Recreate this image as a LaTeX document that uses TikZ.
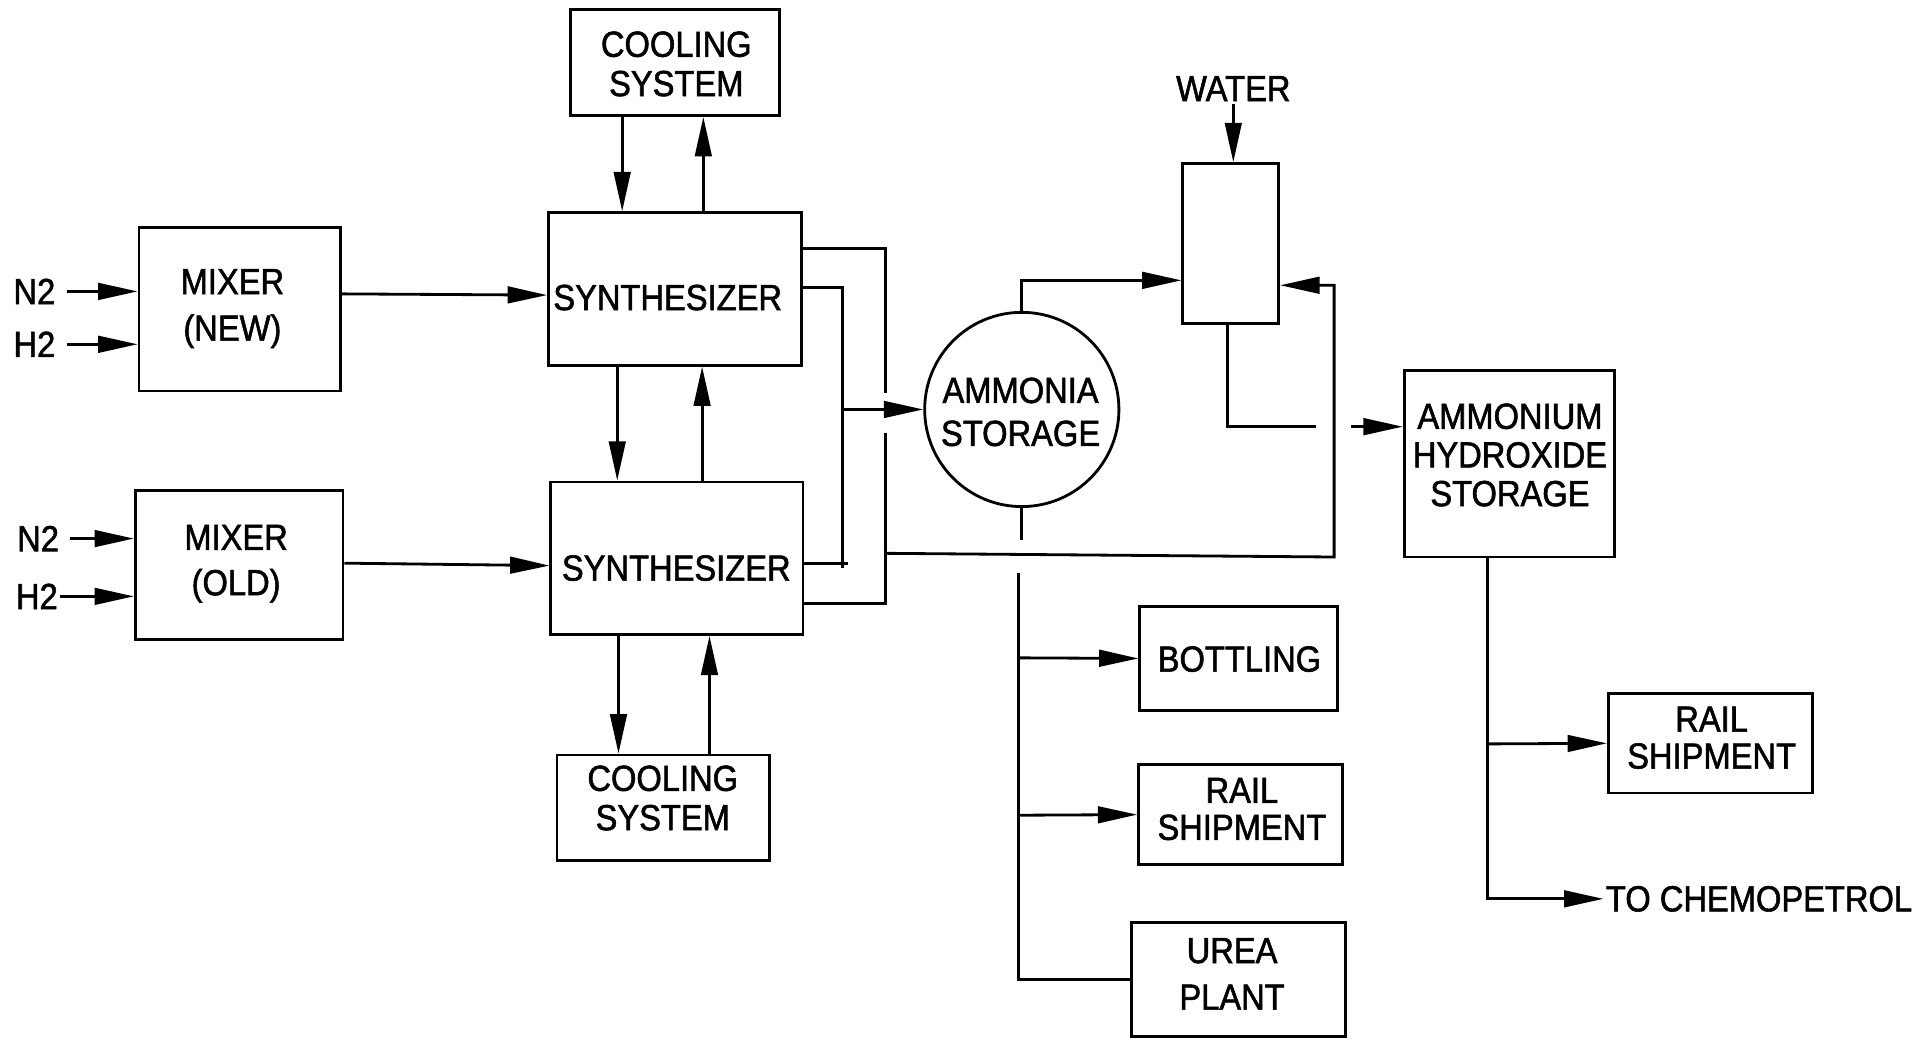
\documentclass[tikz,border=0pt]{standalone}
\usepackage{fontspec}
\setmainfont{Liberation Sans}[FakeStretch=0.9,FakeBold=1.5]
\usetikzlibrary{arrows.meta}
\newcommand{\diagfont}{\fontsize{16.8}{19}\selectfont}
\begin{document}
\begin{tikzpicture}[x=0.02cm,y=-0.02cm,
  box/.style={draw,line width=1.3pt,inner sep=0pt},
  txt/.style={inner sep=0pt,align=center,font=\diagfont},
  ln/.style={line width=1.3pt},
  arr/.style={line width=1.3pt,-{Triangle[length=0.64cm,width=0.27cm]}},
  lbl/.style={inner sep=1pt,font=\diagfont}]
\useasboundingbox (0,0) rectangle (1568,845);

% boxes
\node[box,minimum width=3.28cm,minimum height=2.66cm] (mixNew) at (195,251.5) {};
\node[box,minimum width=3.38cm,minimum height=2.42cm] (mixOld) at (194.5,459.5) {};
\node[box,minimum width=4.12cm,minimum height=2.48cm] (synA) at (549,235) {};
\node[box,minimum width=4.10cm,minimum height=2.48cm] (synB) at (550.5,454) {};
\node[box,minimum width=3.40cm,minimum height=1.72cm] (coolA) at (549,51) {};
\node[box,minimum width=3.46cm,minimum height=1.72cm] (coolB) at (539.5,657) {};
\node[draw,circle,line width=1.3pt,minimum size=3.16cm,inner sep=0pt] (amm) at (831,333) {};
\node[box,minimum width=1.56cm,minimum height=2.60cm] (abs) at (1001,198) {};
\node[box,minimum width=3.42cm,minimum height=3.04cm] (ammHyd) at (1227.5,377) {};
\node[box,minimum width=3.22cm,minimum height=1.70cm] (bottling) at (1007.5,535.5) {};
\node[box,minimum width=3.32cm,minimum height=1.62cm] (rail1) at (1009,662.5) {};
\node[box,minimum width=3.48cm,minimum height=1.86cm] (urea) at (1007,796.5) {};
\node[box,minimum width=3.32cm,minimum height=1.62cm] (rail2) at (1391,604.5) {};

% texts
\node[txt] (mixNewT) at (189,251) {MIXER\\[2.6pt](NEW)};
\node[txt] (mixOldT) at (192,458.5) {MIXER\\[2pt](OLD)};
\node[txt] (synAT) at (543,242) {SYNTHESIZER};
\node[txt] (synBT) at (550,462) {SYNTHESIZER};
\node[txt] (coolAT) at (550,52) {COOLING\\[-0.8pt]SYSTEM};
\node[txt] (coolBT) at (539,649) {COOLING\\[-0.8pt]SYSTEM};
\node[txt] (ammT) at (830,335) {AMMONIA\\[0.9pt]STORAGE};
\node[txt] (ammHydT) at (1228,370) {AMMONIUM\\[-1.1pt]HYDROXIDE\\[-1.1pt]STORAGE};
\node[txt] (bottlingT) at (1008,536) {BOTTLING};
\node[txt] (rail1T) at (1010,658) {RAIL\\[-1.9pt]SHIPMENT};
\node[txt] (ureaT) at (1002,792) {UREA\\[2.6pt]PLANT};
\node[txt] (rail2T) at (1392,600) {RAIL\\[-1.9pt]SHIPMENT};
\node[lbl] (water) at (1003,72) {WATER};
\node[lbl,anchor=west] (chem) at (1304,731) {TO CHEMOPETROL};
\node[lbl] (n2a) at (28,237) {N2};
\node[lbl] (h2a) at (28,280) {H2};
\node[lbl] (n2b) at (31,438) {N2};
\node[lbl] (h2b) at (30,485) {H2};

% feeds
\draw[arr] ([xshift=4pt]n2a.east) -- (n2a.east -| mixNew.west);
\draw[arr] ([xshift=4pt]h2a.east) -- (h2a.east -| mixNew.west);
\draw[arr] ([xshift=4pt]n2b.east) -- (n2b.east -| mixOld.west);
\draw[arr] (h2b.east) -- (h2b.east -| mixOld.west);

% mixers to synthesizers
\draw[arr] (mixNew.east |- 0,239) -- (synA.west |- 0,240);
\draw[arr] (mixOld.east |- 0,458) -- (synB.west |- 0,460);

% cooling loops
\draw[arr] (coolA.south -| 506,0) -- (synA.north -| 506,0);
\draw[arr] (synA.north -| 572,0) -- (coolA.south -| 572,0);
\draw[arr] (synA.south -| 502,0) -- (synB.north -| 502,0);
\draw[arr] (synB.north -| 571,0) -- (synA.south -| 571,0);
\draw[arr] (synB.south -| 503,0) -- (coolB.north -| 503,0);
\draw[arr] (coolB.north -| 577,0) -- (synB.south -| 577,0);

% synthesizer outputs
\draw[ln] (synA.east |- 0,234) -- (685,234) -- (685,462);
\draw[ln] (synB.east |- 0,458) -- (690,458);
\draw[arr] (amm.west -| 685,0) -- (amm.west);
\draw[ln] (synA.east |- 0,202) -- (720,202) -- (720,320);
\draw[ln] (720,352) -- (720,491) -- (synB.east |- 0,491);
\coordinate (j1) at (720,450);
\draw[arr] (j1) -- (1085,453) -- (1085,232) -- (abs.east |- 0,232);

% ammonia storage to absorber
\draw[arr] (amm.north) |- (abs.west |- 0,228);
\draw[arr] (water.south) -- (abs.north -| water.south);
\draw[ln] (abs.south -| 998,0) |- (1070,347);
\draw[arr] (1099,347) -- (ammHyd.west |- 0,347);

% ammonia storage to products
\draw[ln] (amm.south) -- (831,439);
\draw[ln] (828,466) |- (urea.west);
\draw[arr] (828,535) -- (bottling.west);
\draw[arr] (828,663) -- (rail1.west);

% ammonium hydroxide outputs
\draw[arr] (ammHyd.south -| 1210,0) |- (chem.west);
\draw[arr] (1210,605) -- (rail2.west);
\end{tikzpicture}
\end{document}
